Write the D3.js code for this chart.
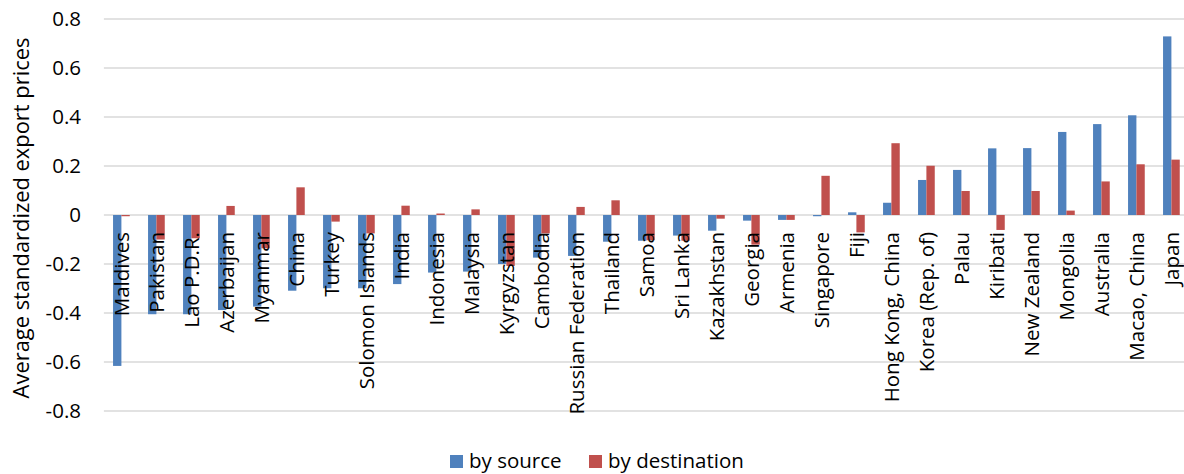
<!DOCTYPE html>
<html>
<head>
<meta charset="utf-8">
<script src="https://cdn.jsdelivr.net/npm/d3@7"></script>
<style>
  body { margin: 0; background: #fff; }
  svg { display: block; font-family: "Open Sans", sans-serif; }
</style>
</head>
<body>
<div id="chart"></div>
<script>
// data
var countries = ["Maldives", "Pakistan", "Lao P.D.R.", "Azerbaijan", "Myanmar", "China", "Turkey",
  "Solomon Islands", "India", "Indonesia", "Malaysia", "Kyrgyzstan", "Cambodia", "Russian Federation",
  "Thailand", "Samoa", "Sri Lanka", "Kazakhstan", "Georgia", "Armenia", "Singapore", "Fiji",
  "Hong Kong, China", "Korea (Rep. of)", "Palau", "Kiribati", "New Zealand", "Mongolia",
  "Australia", "Macao, China", "Japan"];

var bySource = [-0.616, -0.405, -0.405, -0.388, -0.374, -0.309, -0.299, -0.299, -0.282, -0.235,
  -0.231, -0.200, -0.174, -0.167, -0.109, -0.105, -0.084, -0.064, -0.023, -0.020, -0.005, 0.011,
  0.050, 0.143, 0.184, 0.272, 0.273, 0.339, 0.371, 0.407, 0.729];
var byDestination = [-0.005, -0.100, -0.095, 0.037, -0.136, 0.113, -0.027, -0.075, 0.038, 0.006,
  0.023, -0.208, -0.075, 0.033, 0.060, -0.103, -0.105, -0.015, -0.121, -0.020, 0.160, -0.071,
  0.293, 0.201, 0.098, -0.061, 0.098, 0.018, 0.137, 0.207, 0.226];
var seriesNames = ["by source", "by destination"];
var seriesColors = ["#4F81BD", "#C0504D"];
var yTicks = [-0.8, -0.6, -0.4, -0.2, 0, 0.2, 0.4, 0.6, 0.8];

var W = 1184, H = 474;
var fontSize = "20.5px";

var svg = d3.select("#chart").append("svg")
    .attr("width", W)
    .attr("height", H);

var x0 = d3.scaleBand()
    .domain(countries)
    .range([103.9, 1188.9])
    .padding(0);

// bars take 2 of 4.19 bar-widths of each category (Excel gap width 219%)
var x1 = d3.scaleBand()
    .domain(seriesNames)
    .range([0, x0.bandwidth()])
    .paddingInner(0)
    .paddingOuter(1.095);

var y = d3.scaleLinear()
    .domain([-0.8, 0.8])
    .range([411, 19]);

// gridlines
svg.append("g")
    .selectAll("line")
    .data(yTicks)
    .enter().append("line")
      .attr("x1", 103.9)
      .attr("x2", W)
      .attr("y1", function(d) { return y(d); })
      .attr("y2", function(d) { return y(d); })
      .attr("stroke", "#d9d9d9")
      .attr("stroke-width", 1.5);

// y tick labels (plain hyphen minus, like the original)
svg.append("g")
    .selectAll("text")
    .data(yTicks)
    .enter().append("text")
      .attr("x", 81)
      .attr("y", function(d) { return y(d); })
      .attr("dy", "0.35em")
      .attr("text-anchor", "end")
      .style("font-size", fontSize)
      .attr("fill", "#000")
      .text(function(d) { return d == 0 ? "0" : d.toFixed(1); });

// bars
var rows = countries.map(function(c, i) {
  return {country: c, values: [bySource[i], byDestination[i]]};
});

var groups = svg.append("g")
    .selectAll("g")
    .data(rows)
    .enter().append("g")
      .attr("transform", function(d) { return "translate(" + x0(d.country) + ",0)"; });

groups.selectAll("rect")
    .data(function(d) {
      return d.values.map(function(v, i) { return {name: seriesNames[i], value: v, color: seriesColors[i]}; });
    })
    .enter().append("rect")
      .attr("x", function(d) { return x1(d.name); })
      .attr("width", x1.bandwidth())
      .attr("y", function(d) { return y(Math.max(0, d.value)); })
      .attr("height", function(d) { return Math.abs(y(d.value) - y(0)); })
      .attr("fill", function(d) { return d.color; });

// category labels (rotated, drawn over the bars)
svg.append("g")
    .selectAll("text")
    .data(countries)
    .enter().append("text")
      .attr("transform", function(d) {
        return "translate(" + (x0(d) + x0.bandwidth() / 2) + "," + (y(0) + 17) + ") rotate(-90)";
      })
      .attr("dy", "0.35em")
      .attr("text-anchor", "end")
      .style("font-size", fontSize)
      .attr("fill", "#000")
      .text(function(d) { return d; });

// y axis title
svg.append("text")
    .attr("transform", "translate(21," + 218 + ") rotate(-90)")
    .attr("dy", "0.35em")
    .attr("text-anchor", "middle")
    .style("font-size", "21.9px")
    .attr("fill", "#000")
    .text("Average standardized export prices");

// legend
var legendX = [450, 589];
var legend = svg.append("g")
    .selectAll("g")
    .data(seriesNames)
    .enter().append("g")
      .attr("transform", function(d, i) { return "translate(" + legendX[i] + ",455)"; });

legend.append("rect")
    .attr("width", 13)
    .attr("height", 13)
    .attr("fill", function(d, i) { return seriesColors[i]; });

legend.append("text")
    .attr("x", 19)
    .attr("y", 6)
    .attr("dy", "0.35em")
    .style("font-size", fontSize)
    .attr("fill", "#000")
    .text(function(d) { return d; });
</script>
</body>
</html>
